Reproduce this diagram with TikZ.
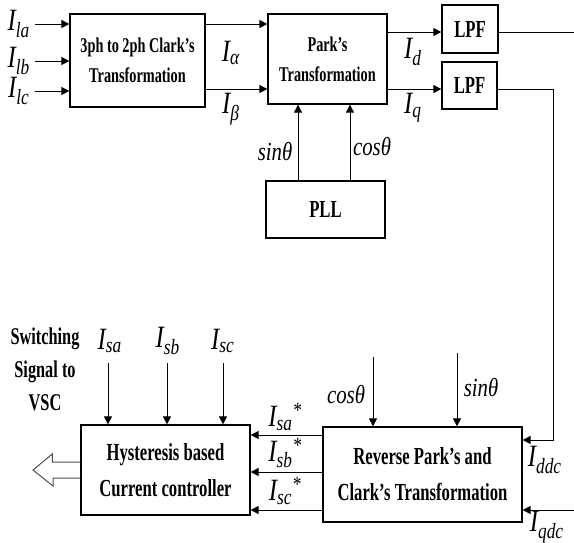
\documentclass[tikz,border=0pt]{standalone}
\usepackage{fontspec}
\setmainfont{Liberation Serif}[FakeStretch=0.68]
\newfontfamily\lblfont{Liberation Serif}[FakeStretch=0.8]
\usetikzlibrary{positioning,arrows.meta,calc}
\newcommand{\cur}[2][]{I\textsubscript{#2}\textsuperscript{#1}}

\begin{document}
\begin{tikzpicture}[
      x=1pt, y=-1pt,
      box/.style={draw, line width=1.3pt, rectangle, align=center, inner sep=2pt,
        font=\bfseries\fontsize{24.5}{36}\selectfont},
      smallbox/.style={box, font=\bfseries\fontsize{21}{30}\selectfont},
      arr/.style={line width=1pt, -{Triangle[length=8pt,width=8pt]}},
      hollow/.style={line width=1pt, black!70},
      lbl/.style={inner sep=0pt, font=\lblfont\itshape\fontsize{31}{34}\selectfont},
      thlbl/.style={inner sep=0pt, font=\lblfont\itshape\fontsize{26}{28}\selectfont},
    ]
    \useasboundingbox (0,0) rectangle (574,542);
    \node[smallbox, minimum width=135pt, minimum height=93pt] (clark) at (137.5,60.5) {3ph to 2ph Clark's\\Transformation};
    \node[smallbox, minimum width=119pt, minimum height=90pt] (park) at (327.5,59) {Park's\\Transformation};
    \node[box, minimum width=56pt, minimum height=48pt] (lpfd) at (470,29) {LPF};
    \node[box, minimum width=55pt, minimum height=47pt] (lpfq) at (469.5,85.5) {LPF};
    \node[box, minimum width=119pt, minimum height=57pt] (pll) at (325.5,209.5) {PLL};
    \node[box, minimum width=169pt, minimum height=90pt] (hyst) at (165.5,470) {Hysteresis based\\Current controller};
    \node[box, minimum width=199pt, minimum height=95pt] (rev) at (422.5,474.5) {Reverse Park's and\\Clark's Transformation};
    \node[align=center, font=\bfseries\fontsize{24}{33}\selectfont] (vsctext) at (45,369) {Switching\\Signal to\\VSC};

    \coordinate (ila) at (35,24);
    \coordinate (ilb) at (35,61);
    \coordinate (ilc) at (35,91);
    \coordinate (ya) at (0,24);
    \coordinate (yb) at (0,89);
    \coordinate (yd) at (0,32);
    \coordinate (xs) at (298,0);
    \coordinate (xc) at (350,0);
    \coordinate (idout) at (574,32);
    \coordinate (iddc) at (553,440);
    \coordinate (iqdc) at (574,510);
    \coordinate (rcos) at (373,357);
    \coordinate (rsin) at (457,353);
    \coordinate (isa) at (108,363);
    \coordinate (isb) at (167,363);
    \coordinate (isc) at (223,363);
    \coordinate (ysa) at (0,435);
    \coordinate (ysb) at (0,472);
    \coordinate (ysc) at (0,510);
    \coordinate (vsc) at (33,470);

    \foreach \c in {ila,ilb,ilc}
      \draw[arr] (\c) -- (clark.west |- \c);
    \draw[arr] (clark.east |- ya) -- (park.west |- ya);
    \draw[arr] (clark.east |- yb) -- (park.west |- yb);
    \draw[arr] (park.east |- yd) -- (lpfd.west |- yd);
    \draw[arr] (park.east |- yb) -- (lpfq.west |- yb);
    \draw[line width=1pt] (lpfd.east |- yd) -- (idout);
    \draw[arr] (lpfq.east |- yb) -| (iddc) -- (rev.east |- iddc);
    \draw[arr] (iqdc) -- (rev.east |- iqdc);
    \draw[arr] (pll.north -| xs) -- (park.south -| xs);
    \draw[arr] (pll.north -| xc) -- (park.south -| xc);
    \draw[arr] (rcos) -- (rev.north -| rcos);
    \draw[arr] (rsin) -- (rev.north -| rsin);
    \foreach \c in {isa,isb,isc}
      \draw[arr] (\c) -- (hyst.north -| \c);
    \foreach \c in {ysa,ysb,ysc}
      \draw[arr] (rev.west |- \c) -- (hyst.east |- \c);
    \draw[hollow] ($(hyst.west)+(0,-8)$) -- ++(-28,0) -- ++(0,-8) -- (vsc) -- ++(20,16) -- ++(0,-8) -- ($(hyst.west)+(0,8)$);

    \node[lbl] (lla) at (19,24) {\cur{la}};
    \node[lbl] (llb) at (19,61) {\cur{lb}};
    \node[lbl] (llc) at (19,91) {\cur{lc}};
    \node[lbl] (lal) at (231,53) {\cur{α}};
    \node[lbl] (lbe) at (231,109) {\cur{β}};
    \node[lbl] (ld) at (413,52) {\cur{d}};
    \node[lbl] (lq) at (413,108) {\cur{q}};
    \node[thlbl] (lsin) at (275,152) {sinθ};
    \node[thlbl] (lcos) at (372,147) {cosθ};
    \node[lbl] (lsa) at (110,341) {\cur{sa}};
    \node[lbl] (lsb) at (168,341) {\cur{sb}};
    \node[lbl] (lsc) at (223,341) {\cur{sc}};
    \node[lbl] (lsas) at (285,417) {\cur[*]{sa}};
    \node[lbl] (lsbs) at (285,453) {\cur[*]{sb}};
    \node[lbl] (lscs) at (285,491) {\cur[*]{sc}};
    \node[thlbl] (rcosl) at (346,395) {cosθ};
    \node[thlbl] (rsinl) at (481,388) {sinθ};
    \node[lbl] (lddc) at (545,460) {\cur{ddc}};
    \node[lbl] (lqdc) at (547,527) {\cur{qdc}};
  \end{tikzpicture}
\end{document}
